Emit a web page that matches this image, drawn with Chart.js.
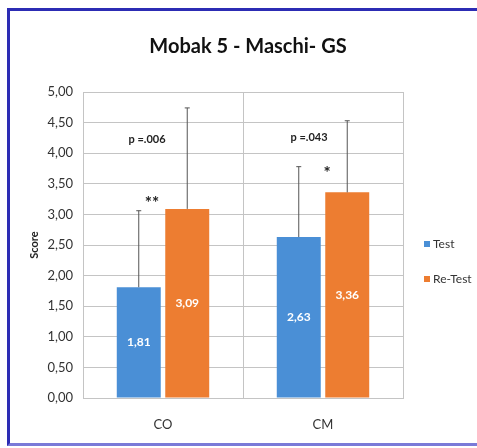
<!DOCTYPE html>
<html>
<head>
<meta charset="utf-8">
<script src="https://cdn.jsdelivr.net/npm/chart.js@4.4.1/dist/chart.umd.min.js"></script>
<style>
  html, body { margin: 0; padding: 0; background: #fff; overflow: hidden; }
  #wrap { position: relative; width: 477px; height: 448px; }
  #frame { position: absolute; left: 7px; top: 8px; width: 480px; height: 432px;
           border: 3px solid #2c2cb4; border-bottom-color: #7a7ad8; box-sizing: content-box; pointer-events: none; }
  canvas { position: absolute; left: 0; top: 0; }
</style>
</head>
<body>
<div id="wrap">
  <canvas id="chart" width="477" height="448"></canvas>
  <div id="frame"></div>
</div>
<script>
const categories = ['CO', 'CM'];
const testValues = [1.81, 2.63];
const retestValues = [3.09, 3.36];
const testSD = [1.25, 1.15];
const retestSD = [1.65, 1.17];
const pLabels = ['p =.006', 'p =.043'];
const sigMarks = ['**', '*'];
const seriesNames = ['Test', 'Re-Test'];
const chartTitle = 'Mobak 5 - Maschi- GS';

const FONT = 'Lato, "Open Sans", sans-serif';
const fmt = v => v.toFixed(2).replace('.', ',');

// error bars, value labels, notes, title and legend
const extras = {
  id: 'extras',
  afterDatasetsDraw(chart) {
    const ctx = chart.ctx;
    const y = chart.scales.y;
    const sds = [testSD, retestSD];
    ctx.save();
    chart.data.datasets.forEach((ds, di) => {
      const meta = chart.getDatasetMeta(di);
      meta.data.forEach((bar, i) => {
        const top = y.getPixelForValue(ds.data[i] + sds[di][i]);
        ctx.strokeStyle = '#555';
        ctx.lineWidth = 1;
        ctx.beginPath();
        ctx.moveTo(bar.x, bar.y);
        ctx.lineTo(bar.x, top);
        ctx.moveTo(bar.x - 2.5, top);
        ctx.lineTo(bar.x + 2.5, top);
        ctx.stroke();

        ctx.fillStyle = '#fff';
        ctx.font = 'bold 12px ' + FONT;
        ctx.textAlign = 'center';
        ctx.textBaseline = 'middle';
        ctx.fillText(fmt(ds.data[i]), bar.x, (bar.y + bar.base) / 2);
      });
    });

    // p values and significance marks
    const x = chart.scales.x;
    const pSpots = [[-16, 4.22], [-14, 4.26]];
    const markSpots = [[-11, 3.18], [4, 3.66]];
    ctx.fillStyle = '#222';
    ctx.textAlign = 'center';
    ctx.textBaseline = 'middle';
    categories.forEach((c, i) => {
      const cx = x.getPixelForValue(i);
      ctx.font = 'bold 11px ' + FONT;
      ctx.fillText(pLabels[i], cx + pSpots[i][0], y.getPixelForValue(pSpots[i][1]));
      ctx.font = 'bold 17px ' + FONT;
      ctx.fillText(sigMarks[i], cx + markSpots[i][0], y.getPixelForValue(markSpots[i][1]));
    });

    // title
    ctx.fillStyle = '#111';
    ctx.font = 'bold 20px ' + FONT;
    ctx.fillText(chartTitle, 248, 47);

    // legend
    ctx.textAlign = 'left';
    ctx.font = '12px ' + FONT;
    chart.data.datasets.forEach((ds, di) => {
      const ly = 244 + di * 35;
      ctx.fillStyle = ds.backgroundColor;
      ctx.fillRect(424, ly - 3, 6, 6);
      ctx.fillStyle = '#333';
      ctx.fillText(seriesNames[di], 433, ly);
    });
    ctx.restore();
  }
};

new Chart(document.getElementById('chart'), {
  type: 'bar',
  data: {
    labels: categories,
    datasets: [
      { label: seriesNames[0], data: testValues, backgroundColor: '#4a8fd6' },
      { label: seriesNames[1], data: retestValues, backgroundColor: '#ed7d31' }
    ]
  },
  options: {
    responsive: false,
    animation: false,
    devicePixelRatio: 1,
    categoryPercentage: 0.606,
    barPercentage: 0.907,
    layout: { padding: { left: 28, right: 74, top: 92, bottom: 10 } },
    plugins: { legend: { display: false }, title: { display: false }, tooltip: { enabled: false } },
    scales: {
      x: {
        grid: { offset: true, color: '#c4c4c4', drawTicks: false },
        border: { color: '#c4c4c4' },
        ticks: { color: '#333', font: { family: FONT, size: 13 }, padding: 19 },
        afterFit(s) { s.height = 40; }
      },
      y: {
        min: 0, max: 5,
        ticks: { stepSize: 0.5, color: '#333', font: { family: FONT, size: 13 }, padding: 10,
                 callback: v => fmt(v) },
        grid: { color: '#c4c4c4', drawTicks: false },
        border: { color: '#c4c4c4' },
        title: { display: true, text: 'Score', color: '#222', font: { family: FONT, size: 11, weight: 'bold' }, padding: { top: 0, bottom: 4 } },
        afterFit(s) { s.width = 55; }
      }
    }
  },
  plugins: [extras]
});
</script>
</body>
</html>
